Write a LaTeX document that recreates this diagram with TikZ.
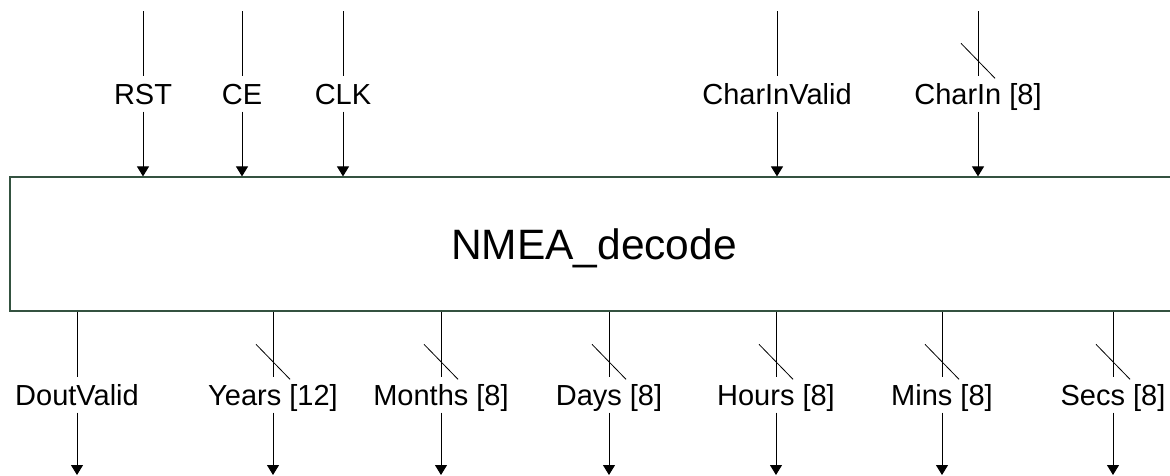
\documentclass[tikz,border=0pt]{standalone}
\usepackage{fontspec}
\setmainfont{Liberation Sans}
\usepackage{tikz}
\usetikzlibrary{arrows.meta}

\definecolor{boxline}{RGB}{52,82,64}

\tikzset{
  sig/.style={line width=1pt, black},
  sigarrow/.style={sig, -{Triangle[length=10pt,width=12pt]}},
  buswidth/.style={line width=0.8pt, black},
  lbl/.style={inner sep=0pt, minimum height=35pt, text height=20.7pt, text depth=0pt,
              font=\fontsize{29}{34}\selectfont},
  block/.style={draw=boxline, line width=1.2pt, inner sep=0pt, text height=30.4pt, text depth=0pt,
                font=\fontsize{42.5}{50}\selectfont},
}

\begin{document}
\begin{tikzpicture}[x=1pt, y=-1pt]
\useasboundingbox (0,0) rectangle (1170,475);

% the decoder block (runs off the right side)
\node[block, minimum width=1168pt, minimum height=134pt] (dec) at (594,244) {NMEA\_decode};

% inputs
\foreach \nm/\xx/\txt in {rst/143/RST, ce/242/CE, clk/343/CLK, civ/777/CharInValid, cin/978/{CharIn [8]}}{
  \coordinate (\nm top) at (\xx,11);
  \node[lbl] (\nm) at (\xx,94) {\txt};
  \draw[sig] (\nm top) -- (\nm);
  \draw[sigarrow] (\nm) -- (\nm |- dec.north);
}

% outputs
\foreach \nm/\xx/\txt in {dv/77/DoutValid, yr/273/{Years [12]}, mo/441/{Months [8]}, dy/609/{Days [8]},
                          hr/776/{Hours [8]}, mi/942/{Mins [8]}, se/1113/{Secs [8]}}{
  \node[lbl] (\nm) at (\xx,395) {\txt};
  \coordinate (\nm end) at (\xx,475);
  \draw[sig] (\nm |- dec.south) -- (\nm);
  \draw[sigarrow] (\nm) -- (\nm end);
}

% bus marks
\foreach \nm in {cin, yr, mo, dy, hr, mi, se}
  \draw[buswidth] ([shift={(-17,-33)}]\nm.north) -- ++(34,35);
\end{tikzpicture}
\end{document}
